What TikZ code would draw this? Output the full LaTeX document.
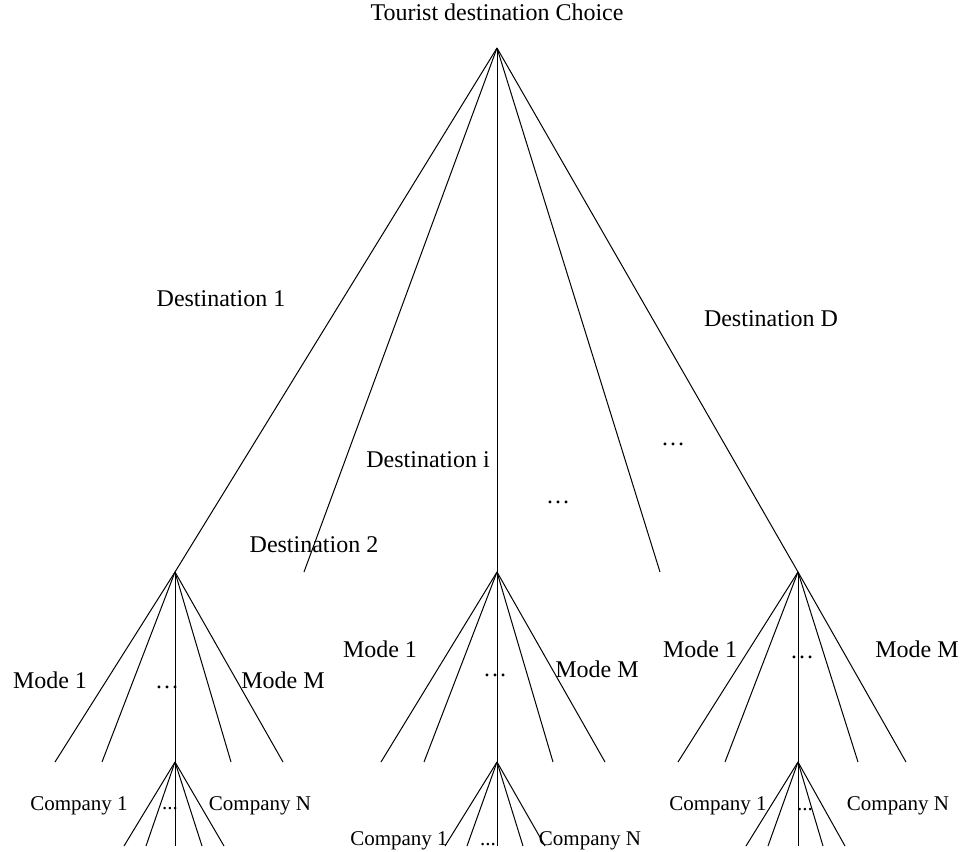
\documentclass[tikz,border=0pt]{standalone}
\usepackage{fontspec}
\setmainfont{Liberation Serif}
\usetikzlibrary{positioning}

\begin{document}
\begin{tikzpicture}[
        x=0.5pt, y=-0.5pt,
        branch/.style={line width=0.5pt},
        lbl/.style={anchor=base, inner sep=0pt, font=\fontsize{12}{14}\selectfont},
        company/.style={anchor=base, inner sep=0pt, font=\fontsize{10.5}{12}\selectfont},
    ]

    \useasboundingbox (0,0) rectangle (965,852);

    \def \droot {48};
    \def \dlevel {572};
    \def \mlevel {762};
    \def \clevel {846};

    % Root and destination points
    \coordinate (T)  at (497, \droot);
    \coordinate (D1) at (175, \dlevel);
    \coordinate (D2) at (304, \dlevel);
    \coordinate (Di) at (497, \dlevel);
    \coordinate (Dn) at (660, \dlevel);
    \coordinate (DD) at (798, \dlevel);

    % Mode ends, destination 1
    \coordinate (M11) at (55, \mlevel);
    \coordinate (M12) at (102, \mlevel);
    \coordinate (C1)  at (175, \mlevel);
    \coordinate (M14) at (231, \mlevel);
    \coordinate (M15) at (283, \mlevel);

    % Mode ends, destination i
    \coordinate (Mi1) at (381, \mlevel);
    \coordinate (Mi2) at (424, \mlevel);
    \coordinate (Ci)  at (497, \mlevel);
    \coordinate (Mi4) at (553, \mlevel);
    \coordinate (Mi5) at (605, \mlevel);

    % Mode ends, destination D
    \coordinate (MD1) at (678, \mlevel);
    \coordinate (MD2) at (725, \mlevel);
    \coordinate (CD)  at (798, \mlevel);
    \coordinate (MD4) at (858, \mlevel);
    \coordinate (MD5) at (906, \mlevel);

    % Company ends
    \coordinate (K11) at (124, \clevel);
    \coordinate (K12) at (146, \clevel);
    \coordinate (K13) at (175, \clevel);
    \coordinate (K14) at (202, \clevel);
    \coordinate (K15) at (224, \clevel);

    \coordinate (Ki1) at (445, \clevel);
    \coordinate (Ki2) at (467, \clevel);
    \coordinate (Ki3) at (497, \clevel);
    \coordinate (Ki4) at (523, \clevel);
    \coordinate (Ki5) at (545, \clevel);

    \coordinate (KD1) at (746, \clevel);
    \coordinate (KD2) at (768, \clevel);
    \coordinate (KD3) at (798, \clevel);
    \coordinate (KD4) at (823, \clevel);
    \coordinate (KD5) at (845, \clevel);

    % Destination branches
    \draw[branch] (T) -- (D1);
    \draw[branch] (T) -- (D2);
    \draw[branch] (T) -- (Di);
    \draw[branch] (T) -- (Dn);
    \draw[branch] (T) -- (DD);

    % Mode branches
    \draw[branch] (D1) -- (M11);
    \draw[branch] (D1) -- (M12);
    \draw[branch] (D1) -- (C1);
    \draw[branch] (D1) -- (M14);
    \draw[branch] (D1) -- (M15);

    \draw[branch] (Di) -- (Mi1);
    \draw[branch] (Di) -- (Mi2);
    \draw[branch] (Di) -- (Ci);
    \draw[branch] (Di) -- (Mi4);
    \draw[branch] (Di) -- (Mi5);

    \draw[branch] (DD) -- (MD1);
    \draw[branch] (DD) -- (MD2);
    \draw[branch] (DD) -- (CD);
    \draw[branch] (DD) -- (MD4);
    \draw[branch] (DD) -- (MD5);

    % Company branches
    \draw[branch] (C1) -- (K11);
    \draw[branch] (C1) -- (K12);
    \draw[branch] (C1) -- (K13);
    \draw[branch] (C1) -- (K14);
    \draw[branch] (C1) -- (K15);

    \draw[branch] (Ci) -- (Ki1);
    \draw[branch] (Ci) -- (Ki2);
    \draw[branch] (Ci) -- (Ki3);
    \draw[branch] (Ci) -- (Ki4);
    \draw[branch] (Ci) -- (Ki5);

    \draw[branch] (CD) -- (KD1);
    \draw[branch] (CD) -- (KD2);
    \draw[branch] (CD) -- (KD3);
    \draw[branch] (CD) -- (KD4);
    \draw[branch] (CD) -- (KD5);

    % Labels
    \node[lbl] (title) at (497, 20)  {Tourist destination Choice};
    \node[lbl] (LD1)   at (221, 306) {Destination 1};
    \node[lbl] (LD2)   at (314, 552) {Destination 2};
    \node[lbl] (LDi)   at (428, 467) {Destination i};
    \node[lbl] (LDD)   at (771, 326) {Destination D};
    \node[lbl] (dotsA) at (673, 445) {\ldots};
    \node[lbl] (dotsB) at (558, 503) {\ldots};

    \node[lbl] (LM11) at (50, 688)  {Mode 1};
    \node[lbl] (dM1)  at (167, 688) {\ldots};
    \node[lbl] (LM1M) at (283, 688) {Mode M};

    \node[lbl] (LMi1) at (380, 657) {Mode 1};
    \node[lbl] (dMi)  at (495, 676) {\ldots};
    \node[lbl] (LMiM) at (597, 677) {Mode M};

    \node[lbl] (LMD1) at (700, 657) {Mode 1};
    \node[lbl] (dMD)  at (802, 658) {\ldots};
    \node[lbl] (LMDM) at (917, 657) {Mode M};

    \node[company] (LK11) at (79, 810)  {Company 1};
    \node[company] (dK1)  at (170, 809) {...};
    \node[company] (LK1N) at (260, 810) {Company N};

    \node[company] (LKi1) at (399, 845) {Company 1};
    \node[company] (dKi)  at (488, 845) {...};
    \node[company] (LKiN) at (590, 845) {Company N};

    \node[company] (LKD1) at (718, 810) {Company 1};
    \node[company] (dKD)  at (805, 810) {...};
    \node[company] (LKDN) at (898, 810) {Company N};
\end{tikzpicture}
\end{document}
